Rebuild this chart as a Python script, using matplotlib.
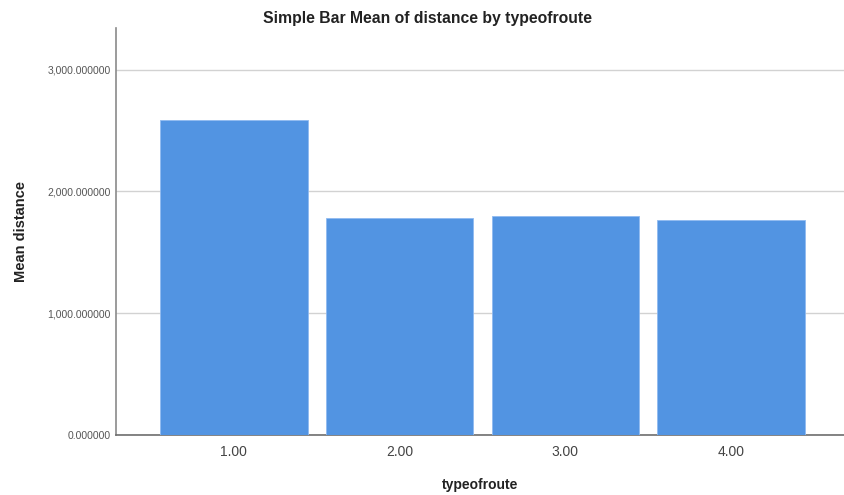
import matplotlib
matplotlib.use("Agg")
import matplotlib.pyplot as plt
from matplotlib.ticker import FuncFormatter

categories = ["1.00", "2.00", "3.00", "4.00"]
mean_distance = [2588, 1780, 1799, 1761]
y_ticks = [0, 1000, 2000, 3000]

plt.rcParams["font.family"] = ["Liberation Sans", "DejaVu Sans"]

fig = plt.figure(figsize=(8.44, 4.95), dpi=100)
ax = fig.add_axes([0.1374, 0.1212, 0.8626, 0.822])

positions = list(range(1, len(categories) + 1))
ax.bar(positions, mean_distance, width=0.89, color="#5294e2",
       edgecolor="#8fbaf0", linewidth=0.6, zorder=3)

ax.set_xlim(0.29, 4.68)
ax.set_ylim(0, 3340)
ax.set_xticks(positions)
ax.set_xticklabels(categories)
ax.set_yticks(y_ticks)
ax.yaxis.set_major_formatter(FuncFormatter(lambda v, p: f"{v:,.6f}"))

ax.grid(axis="y", color="#d2d2d2", linewidth=1.0, zorder=0)
ax.set_axisbelow(True)

for side in ("top", "right"):
    ax.spines[side].set_visible(False)
ax.spines["left"].set_color("#8a8a8a")
ax.spines["bottom"].set_color("#6e6e6e")
ax.spines["left"].set_linewidth(1.2)
ax.spines["bottom"].set_linewidth(1.2)

ax.tick_params(axis="y", length=0, pad=4, labelsize=7.5, labelcolor="#555555")
ax.tick_params(axis="x", length=0, pad=7, labelsize=10, labelcolor="#444444")

ax.set_ylabel("Mean distance", fontsize=10.5, fontweight="bold", color="#222222", labelpad=14)
ax.set_xlabel("typeofroute", fontsize=10, fontweight="bold", color="#222222", labelpad=14)
fig.suptitle("Simple Bar Mean of distance by typeofroute", x=0.507, y=0.978,
             fontsize=11.3, fontweight="bold", color="#222222")

fig.savefig("out.png", dpi=100, facecolor="white")
